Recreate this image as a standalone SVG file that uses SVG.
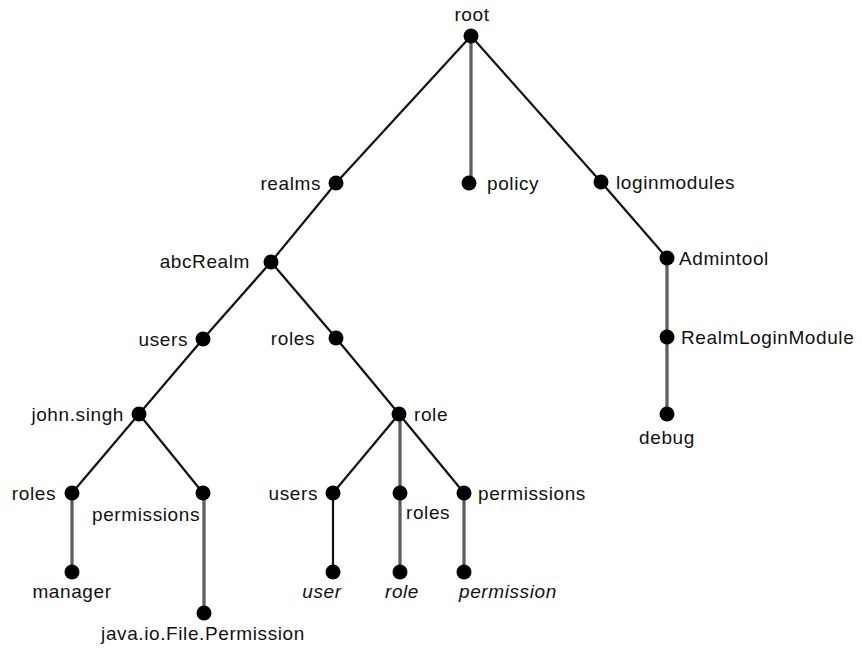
<svg xmlns="http://www.w3.org/2000/svg" width="862" height="650" viewBox="0 0 862 650">
  <style>
    .edge { stroke: #111; stroke-width: 2.2; fill: none; }
    .stem { stroke: #333; stroke-width: 3; fill: none; }
    .stem-in { stroke: #8c8c8c; stroke-width: 1; fill: none; }
    .dot { fill: #000; }
    text { font-family: "Liberation Sans", Arial, Helvetica, sans-serif; font-size: 19px; letter-spacing: 0.6px; fill: #111; }
    .it { font-style: italic; }
    .mid { text-anchor: middle; }
    .end { text-anchor: end; }
  </style>
  <rect width="862" height="650" fill="#fff"/>

  <!-- connectors -->
  <g id="connectors">
    <line class="edge" x1="471" y1="36" x2="336" y2="183"/>
    <line class="edge" x1="471" y1="36" x2="601" y2="182"/>
    <line class="edge" x1="336" y1="183" x2="271" y2="262"/>
    <line class="edge" x1="271" y1="262" x2="203" y2="339"/>
    <line class="edge" x1="271" y1="262" x2="336" y2="338"/>
    <line class="edge" x1="203" y1="339" x2="139" y2="414"/>
    <line class="edge" x1="336" y1="338" x2="399" y2="414"/>
    <line class="edge" x1="139" y1="414" x2="72" y2="493"/>
    <line class="edge" x1="139" y1="414" x2="203" y2="493"/>
    <line class="edge" x1="399" y1="414" x2="333" y2="493"/>
    <line class="edge" x1="399" y1="414" x2="464" y2="493"/>
    <line class="edge" x1="601" y1="182" x2="667" y2="258"/>
    <line class="edge" x1="333" y1="493" x2="333" y2="572"/>
    <!-- grey double-edged stems -->
    <g class="stems">
      <path class="stem" d="M471 36V183 M667 258V414 M72 493V572 M204 493V613 M400 414V572 M464 493V572"/>
      <path class="stem-in" d="M471 36V183 M667 258V414 M72 493V572 M204 493V613 M400 414V572 M464 493V572"/>
    </g>
  </g>

  <g id="n-root"><circle class="dot" cx="471" cy="36" r="7.5"/><text class="mid" x="472" y="21">root</text></g>
  <g id="n-realms"><circle class="dot" cx="336" cy="183" r="7.5"/><text class="end" x="321" y="190">realms</text></g>
  <g id="n-policy"><circle class="dot" cx="469" cy="183" r="7.5"/><text x="487" y="190">policy</text></g>
  <g id="n-loginmodules"><circle class="dot" cx="601" cy="182" r="7.5"/><text x="616" y="189">loginmodules</text></g>
  <g id="n-admintool"><circle class="dot" cx="667" cy="258" r="7.5"/><text x="679" y="265">Admintool</text></g>
  <g id="n-realmloginmodule"><circle class="dot" cx="667" cy="337" r="7.5"/><text x="681" y="344">RealmLoginModule</text></g>
  <g id="n-debug"><circle class="dot" cx="667" cy="414" r="7.5"/><text class="mid" x="667" y="444">debug</text></g>
  <g id="n-abcrealm"><circle class="dot" cx="271" cy="262" r="7.5"/><text class="end" x="250" y="268">abcRealm</text></g>
  <g id="n-users"><circle class="dot" cx="203" cy="339" r="7.5"/><text class="end" x="188" y="346">users</text></g>
  <g id="n-roles"><circle class="dot" cx="336" cy="338" r="7.5"/><text class="end" x="315" y="345">roles</text></g>
  <g id="n-john"><circle class="dot" cx="139" cy="414" r="7.5"/><text class="end" x="124" y="421">john.singh</text></g>
  <g id="n-role"><circle class="dot" cx="399" cy="414" r="7.5"/><text x="414" y="421">role</text></g>
  <g id="n-john-roles"><circle class="dot" cx="72" cy="493" r="7.5"/><text class="end" x="56" y="500">roles</text></g>
  <g id="n-john-permissions"><circle class="dot" cx="203" cy="493" r="7.5"/><text class="end" x="200" y="521">permissions</text></g>
  <g id="n-manager"><circle class="dot" cx="72" cy="572" r="7.5"/><text class="mid" x="72" y="598">manager</text></g>
  <g id="n-filepermission"><circle class="dot" cx="204" cy="613" r="7.5"/><text class="mid" x="203" y="640">java.io.File.Permission</text></g>
  <g id="n-role-users"><circle class="dot" cx="333" cy="493" r="7.5"/><text class="end" x="318" y="500">users</text></g>
  <g id="n-role-roles"><circle class="dot" cx="400" cy="493" r="7.5"/><text x="406" y="519">roles</text></g>
  <g id="n-role-permissions"><circle class="dot" cx="464" cy="493" r="7.5"/><text x="478" y="500">permissions</text></g>
  <g id="n-user"><circle class="dot" cx="333" cy="572" r="7.5"/><text class="mid it" x="322" y="598">user</text></g>
  <g id="n-role-leaf"><circle class="dot" cx="400" cy="572" r="7.5"/><text class="mid it" x="402" y="598">role</text></g>
  <g id="n-permission"><circle class="dot" cx="464" cy="572" r="7.5"/><text class="it" x="459" y="598">permission</text></g>
</svg>
